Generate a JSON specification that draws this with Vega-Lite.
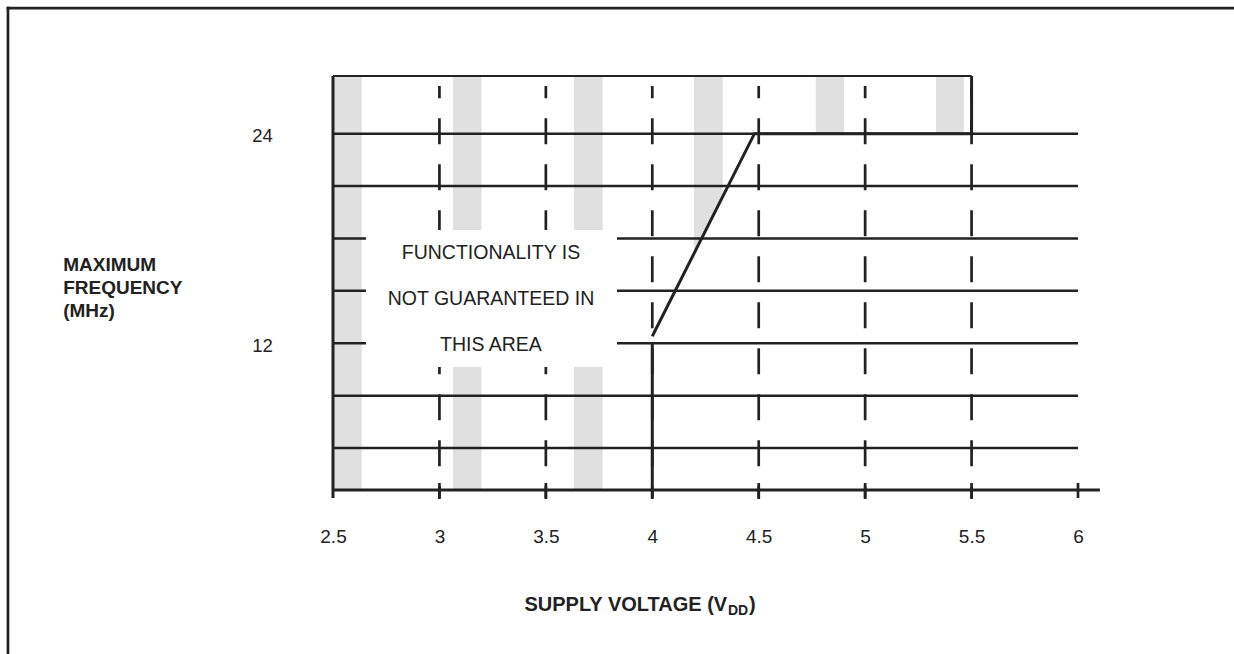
{
  "$schema": "https://vega.github.io/schema/vega-lite/v6.json",
  "width": 745,
  "height": 414,
  "autosize": {"type": "none"},
  "padding": {"left": 333, "top": 76, "right": 156, "bottom": 164},
  "background": "white",
  "config": {"view": {"stroke": null}, "font": "Liberation Sans"},
  "datasets": {
    "bands": [
      {"v": 2.5, "v2": 2.635, "f": 27.3, "f2": 3.6},
      {"v": 3.064, "v2": 3.197, "f": 27.3, "f2": 3.6},
      {"v": 3.632, "v2": 3.767, "f": 27.3, "f2": 3.6},
      {"v": 4.768, "v2": 4.901, "f": 27.3, "f2": 24},
      {"v": 5.333, "v2": 5.464, "f": 27.3, "f2": 24}
    ],
    "band4": [
      {"f": 27.3, "v": 4.196, "v2": 4.331},
      {"f": 20.4, "v": 4.196, "v2": 4.331},
      {"f": 17.14, "v": 4.196, "v2": 4.196}
    ],
    "freq_lines": [
      {"f": 24, "v": 2.5, "v2": 6},
      {"f": 21, "v": 2.5, "v2": 6},
      {"f": 18, "v": 2.5, "v2": 6},
      {"f": 15, "v": 2.5, "v2": 6},
      {"f": 12, "v": 2.5, "v2": 6},
      {"f": 9, "v": 2.5, "v2": 6},
      {"f": 6, "v": 2.5, "v2": 6}
    ],
    "volt_lines": [
      {"v": 3, "f": 26.73, "f2": 3.085},
      {"v": 3.5, "f": 26.73, "f2": 3.085},
      {"v": 4, "f": 26.73, "f2": 3.085},
      {"v": 4.5, "f": 26.73, "f2": 3.085},
      {"v": 5, "f": 26.73, "f2": 3.085},
      {"v": 5.5, "f": 26.73, "f2": 3.085}
    ],
    "notice": [
      {"v": 3.242, "f": 17.15, "t": "FUNCTIONALITY IS"},
      {"v": 3.242, "f": 14.52, "t": "NOT GUARANTEED IN"},
      {"v": 3.242, "f": 11.9, "t": "THIS AREA"}
    ],
    "frame": [
      {"v": 0.973, "v2": 7.5, "f": 31.19, "f2": 31.19},
      {"v": 0.973, "v2": 0.973, "f": 31.19, "f2": -12}
    ],
    "axes": [
      {"v": 2.5, "v2": 2.5, "f": 27.3, "f2": 3.142},
      {"v": 2.5, "v2": 6.103, "f": 3.6, "f2": 3.6},
      {"v": 4, "v2": 4, "f": 12, "f2": 3.142},
      {"v": 5.5, "v2": 5.5, "f": 27.3, "f2": 24}
    ],
    "box_top": [
      {"v": 2.5, "v2": 5.5, "f": 27.3, "f2": 27.3}
    ],
    "ticks": [
      {"v": 3, "f": 4.0, "f2": 3.142},
      {"v": 3.5, "f": 4.0, "f2": 3.142},
      {"v": 4.5, "f": 4.0, "f2": 3.142},
      {"v": 5, "f": 4.0, "f2": 3.142},
      {"v": 5.5, "f": 4.0, "f2": 3.142},
      {"v": 6, "f": 4.0, "f2": 3.142}
    ],
    "limit": [
      {"v": 4, "f": 12.4},
      {"v": 4.48, "f": 24},
      {"v": 5.5, "f": 24}
    ],
    "sub": [
      {"v": 4.3557, "f": -3.556, "t": "DD"}
    ],
    "paren": [
      {"v": 4.4543, "f": -3.311, "t": ")"}
    ]
  },
  "encoding": {
    "x": {
      "field": "v",
      "type": "quantitative",
      "scale": {"domain": [2.5, 6], "nice": false, "zero": false},
      "axis": {
        "values": [2.5, 3, 3.5, 4, 4.5, 5, 5.5, 6],
        "format": "~g",
        "domain": false,
        "ticks": false,
        "tickSize": 0,
        "grid": false,
        "labelFontSize": 19,
        "labelColor": "#222",
        "labelPadding": 37,
        "labelBaseline": "top",
        "labelFlush": false,
        "labelOverlap": false,
        "title": "SUPPLY VOLTAGE (V",
        "titleFontSize": 20,
        "titleFontWeight": "bold",
        "titleColor": "#222",
        "titleAlign": "left",
        "titleAnchor": "start",
        "titleBaseline": "alphabetic",
        "titleX": 191,
        "titleY": 120.7
      }
    },
    "y": {
      "field": "f",
      "type": "quantitative",
      "scale": {"domain": [3.6, 27.3], "nice": false, "zero": false},
      "axis": {
        "values": [12, 24],
        "format": "d",
        "domain": false,
        "ticks": false,
        "tickSize": 0,
        "grid": false,
        "labelFontSize": 18.5,
        "labelColor": "#222",
        "labelPadding": 71,
        "labelAlign": "center",
        "labelBaseline": "middle",
        "labelOffset": 2,
        "labelFlush": false,
        "labelOverlap": false,
        "title": ["MAXIMUM", "FREQUENCY", "\u2002(MHz)"],
        "titleAngle": 0,
        "titleAlign": "left",
        "titleAnchor": "start",
        "titleBaseline": "alphabetic",
        "titleX": -270.3,
        "titleY": 194.7,
        "titleFontSize": 19,
        "titleFontWeight": "bold",
        "titleLineHeight": 22.7,
        "titleColor": "#222"
      }
    }
  },
  "layer": [
    {
      "data": {"name": "bands"},
      "mark": {"type": "rect", "fill": "#e0e0e0"},
      "encoding": {"x2": {"field": "v2"}, "y2": {"field": "f2"}}
    },
    {
      "data": {"name": "band4"},
      "mark": {"type": "area", "orient": "horizontal", "fill": "#e0e0e0"},
      "encoding": {"x2": {"field": "v2"}}
    },
    {
      "data": {"name": "freq_lines"},
      "mark": {"type": "rule", "stroke": "#222", "strokeWidth": 2.5},
      "encoding": {"x2": {"field": "v2"}}
    },
    {
      "data": {"name": "volt_lines"},
      "mark": {"type": "rule", "stroke": "#222", "strokeWidth": 2.7, "strokeDash": [26, 20], "strokeDashOffset": 13.7},
      "encoding": {"y2": {"field": "f2"}}
    },
    {
      "data": {"values": [{"v": 2.655, "v2": 3.834, "f": 18.48, "f2": 10.64}]},
      "mark": {"type": "rect", "fill": "white"},
      "encoding": {"x2": {"field": "v2"}, "y2": {"field": "f2"}}
    },
    {
      "data": {"name": "notice"},
      "mark": {"type": "text", "fontSize": 19.5, "align": "center", "baseline": "middle", "fill": "#222"},
      "encoding": {"text": {"field": "t"}}
    },
    {
      "data": {"name": "frame"},
      "mark": {"type": "rule", "stroke": "#222", "strokeWidth": 2.7, "strokeCap": "square"},
      "encoding": {"x2": {"field": "v2"}, "y2": {"field": "f2"}}
    },
    {
      "data": {"name": "axes"},
      "mark": {"type": "rule", "stroke": "#222", "strokeWidth": 3},
      "encoding": {"x2": {"field": "v2"}, "y2": {"field": "f2"}}
    },
    {
      "data": {"name": "box_top"},
      "mark": {"type": "rule", "stroke": "#222", "strokeWidth": 2.2},
      "encoding": {"x2": {"field": "v2"}, "y2": {"field": "f2"}}
    },
    {
      "data": {"name": "ticks"},
      "mark": {"type": "rule", "stroke": "#222", "strokeWidth": 2.7},
      "encoding": {"y2": {"field": "f2"}}
    },
    {
      "data": {"name": "limit"},
      "mark": {"type": "line", "stroke": "#222", "strokeWidth": 3},
      "encoding": {}
    },
    {
      "data": {"name": "sub"},
      "mark": {"type": "text", "fontSize": 14, "fontWeight": "bold", "align": "left", "baseline": "alphabetic", "fill": "#222"},
      "encoding": {"text": {"field": "t"}}
    },
    {
      "data": {"name": "paren"},
      "mark": {"type": "text", "fontSize": 20, "fontWeight": "bold", "align": "left", "baseline": "alphabetic", "fill": "#222"},
      "encoding": {"text": {"field": "t"}}
    }
  ]
}
